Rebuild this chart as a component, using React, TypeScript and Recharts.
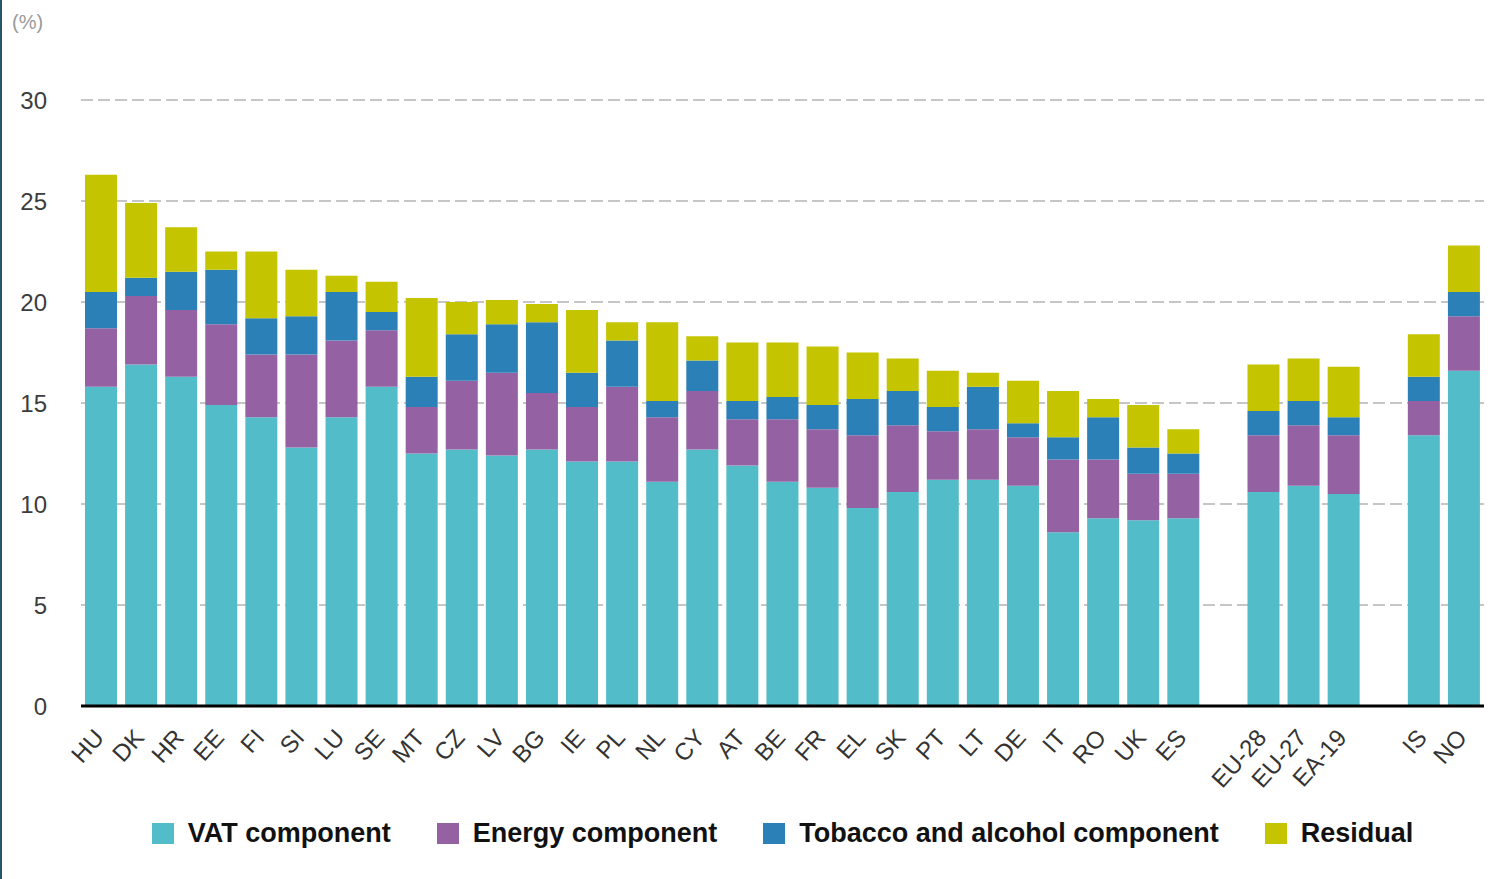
import { BarChart, Bar, XAxis, YAxis, CartesianGrid } from "recharts";

// empty strings are the spacer slots between the groups
const categories = [
  "HU", "DK", "HR", "EE", "FI", "SI", "LU", "SE", "MT", "CZ", "LV", "BG", "IE", "PL",
  "NL", "CY", "AT", "BE", "FR", "EL", "SK", "PT", "LT", "DE", "IT", "RO", "UK", "ES",
  "", "EU-28", "EU-27", "EA-19", "", "IS", "NO",
];

const vat = [
  15.8, 16.9, 16.3, 14.9, 14.3, 12.8, 14.3, 15.8, 12.5, 12.7, 12.4, 12.7, 12.1, 12.1,
  11.1, 12.7, 11.9, 11.1, 10.8, 9.8, 10.6, 11.2, 11.2, 10.9, 8.6, 9.3, 9.2, 9.3,
  null, 10.6, 10.9, 10.5, null, 13.4, 16.6,
];

const energy = [
  2.9, 3.4, 3.3, 4.0, 3.1, 4.6, 3.8, 2.8, 2.3, 3.4, 4.1, 2.8, 2.7, 3.7,
  3.2, 2.9, 2.3, 3.1, 2.9, 3.6, 3.3, 2.4, 2.5, 2.4, 3.6, 2.9, 2.3, 2.2,
  null, 2.8, 3.0, 2.9, null, 1.7, 2.7,
];

const tobacco = [
  1.8, 0.9, 1.9, 2.7, 1.8, 1.9, 2.4, 0.9, 1.5, 2.3, 2.4, 3.5, 1.7, 2.3,
  0.8, 1.5, 0.9, 1.1, 1.2, 1.8, 1.7, 1.2, 2.1, 0.7, 1.1, 2.1, 1.3, 1.0,
  null, 1.2, 1.2, 0.9, null, 1.2, 1.2,
];

const residual = [
  5.8, 3.7, 2.2, 0.9, 3.3, 2.3, 0.8, 1.5, 3.9, 1.6, 1.2, 0.9, 3.1, 0.9,
  3.9, 1.2, 2.9, 2.7, 2.9, 2.3, 1.6, 1.8, 0.7, 2.1, 2.3, 0.9, 2.1, 1.2,
  null, 2.3, 2.1, 2.5, null, 2.1, 2.3,
];

const yTicks = [0, 5, 10, 15, 20, 25, 30];

const series = [
  { key: "vat", label: "VAT component", color: "#52bdc9" },
  { key: "energy", label: "Energy component", color: "#9462a3" },
  { key: "tobacco", label: "Tobacco and alcohol component", color: "#2a80b7" },
  { key: "residual", label: "Residual", color: "#c4c400" },
];

const data = categories.map((name, i) => ({
  name,
  vat: vat[i],
  energy: energy[i],
  tobacco: tobacco[i],
  residual: residual[i],
}));

const font = "'Liberation Sans', Arial, sans-serif";

function CountryTick({ x, y, payload }: any) {
  if (!payload.value) return null;
  return (
    <g transform={`translate(${x - 2},${y + 27})`}>
      <text
        textAnchor="end"
        transform="rotate(-48)"
        dy="0.35em"
        fontSize={24}
        fontFamily={font}
        fill="#333"
      >
        {payload.value}
      </text>
    </g>
  );
}

export default function App() {
  return (
    <div
      style={{
        position: "absolute",
        left: 0,
        top: 0,
        width: 1493,
        height: 879,
        background: "#fff",
        fontFamily: font,
        overflow: "hidden",
      }}
    >
      <div style={{ position: "absolute", left: 0, top: 0, width: 2, height: 879, background: "#27536b" }} />
      <div style={{ position: "absolute", left: 12, top: 11, fontSize: 20, color: "#9a9a9a" }}>(%)</div>

      <BarChart
        width={1493}
        height={879}
        data={data}
        margin={{ top: 100, right: 9, bottom: 0, left: 0 }}
        barSize={32}
      >
        <CartesianGrid vertical={false} stroke="#c6c6c6" strokeWidth={2} strokeDasharray="12 5" />
        <YAxis
          domain={[0, 30]}
          ticks={yTicks}
          width={81}
          axisLine={false}
          tickLine={false}
          tickSize={0}
          tickMargin={34}
          tick={{ fontSize: 24, fill: "#3c3c3c", fontFamily: font }}
        />
        <XAxis
          dataKey="name"
          height={173}
          interval={0}
          tickLine={false}
          tickSize={0}
          tickMargin={0}
          axisLine={{ stroke: "#000", strokeWidth: 3 }}
          tick={<CountryTick />}
        />
        {series.map((s) => (
          <Bar key={s.key} dataKey={s.key} stackId="a" fill={s.color} isAnimationActive={false} />
        ))}
      </BarChart>

      <div
        style={{
          position: "absolute",
          left: 81,
          width: 1403,
          top: 818,
          display: "flex",
          justifyContent: "center",
          alignItems: "center",
          gap: 46,
        }}
      >
        {series.map((s) => (
          <div key={s.key} style={{ display: "flex", alignItems: "center" }}>
            <span style={{ width: 22, height: 21, background: s.color, marginRight: 14, display: "inline-block" }} />
            <span style={{ fontSize: 27, fontWeight: 700, color: "#111" }}>{s.label}</span>
          </div>
        ))}
      </div>
    </div>
  );
}
